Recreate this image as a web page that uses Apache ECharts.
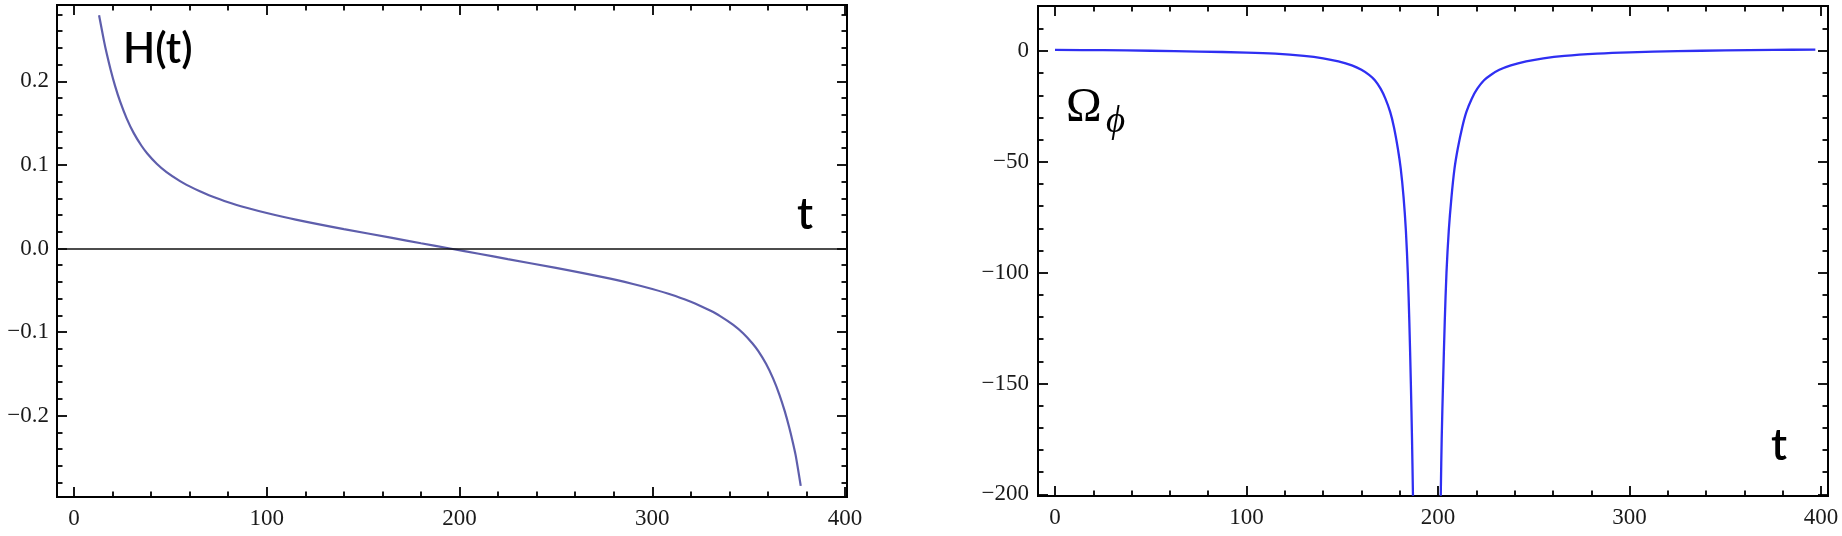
<!DOCTYPE html>
<html><head><meta charset="utf-8">
<script src="https://cdn.jsdelivr.net/npm/echarts@6/dist/echarts.min.js"></script>
<style>html,body{margin:0;padding:0;background:#fff}#c{width:1842px;height:536px}</style>
</head><body><div id="c"></div><script>
// ---- data ----
const hT = [13, 15.6, 17, 19, 21.3, 24, 27.3, 31, 35, 38, 42.9, 48, 55, 60, 65.3, 70, 80, 90, 100, 115, 140, 165, 180, 195, 210, 225, 250, 275, 290, 300, 310, 320, 324.7, 330, 335, 342, 347.1, 352, 355, 359, 362.7, 366, 368.7, 371, 373, 374.4, 377];
const hVal = [0.279, 0.2478, 0.2329, 0.2139, 0.1946, 0.1753, 0.1557, 0.138, 0.1229, 0.1137, 0.1014, 0.0914, 0.0806, 0.0743, 0.0684, 0.0638, 0.0554, 0.0485, 0.0425, 0.0346, 0.0232, 0.0127, 0.0063, 0, -0.0063, -0.0127, -0.0232, -0.0346, -0.0425, -0.0485, -0.0554, -0.0638, -0.0684, -0.0743, -0.0806, -0.0914, -0.1014, -0.1137, -0.1229, -0.138, -0.1557, -0.1753, -0.1946, -0.2139, -0.2329, -0.2478, -0.284];

const omT1 = [0, 25, 50, 75, 100, 115, 130, 140, 148, 155, 160, 164, 167, 170, 172.5, 175, 177, 179, 180.5, 182, 183.2, 184.2, 185, 185.8, 186.4, 186.9];
const omV1 = [0.5, 0.35, 0.1, -0.25, -0.7, -1.2, -2.2, -3.3, -4.7, -6.5, -8.5, -10.8, -13.2, -17, -21.5, -27.5, -34.5, -44, -53, -66, -81, -100, -122, -150, -175, -200.7];
const omT2 = [201.4, 201.9, 202.6, 203.5, 204.4, 205.6, 207, 208.6, 210.3, 212.6, 214.8, 217.6, 220.5, 224, 227.5, 232, 238, 246, 255, 266, 283, 300, 325, 350, 375, 397];
const omV2 = [-200.7, -175, -150, -122, -100, -81, -66, -53, -44, -34.5, -27.5, -21.5, -17, -13.2, -10.8, -8.5, -6.5, -4.7, -3.3, -2.2, -1.2, -0.6, -0.1, 0.3, 0.5, 0.65];

// ---- ticks ----
const xMajor = [0, 100, 200, 300, 400];
const xMinor = [20, 40, 60, 80, 120, 140, 160, 180, 220, 240, 260, 280, 320, 340, 360, 380];
const hMajor = [-0.2, -0.1, 0, 0.1, 0.2];
const hMinor = [-0.28, -0.26, -0.24, -0.22, -0.18, -0.16, -0.14, -0.12, -0.08, -0.06, -0.04, -0.02, 0.02, 0.04, 0.06, 0.08, 0.12, 0.14, 0.16, 0.18, 0.22, 0.24, 0.26, 0.28];
const omMajor = [-200, -150, -100, -50, 0];
const omMinor = [-190, -180, -170, -160, -140, -130, -120, -110, -90, -80, -70, -60, -40, -30, -20, -10, 10];

const LABEL_FONT = '"Liberation Serif", "Times New Roman", serif';
function minusFmt(d) {
  return function (v) {
    const s = Math.abs(v).toFixed(d);
    return (v < -1e-9 ? '\u2212' : '') + s;
  };
}
function frame(gridIndex, min, max, major, minor, side1, side2, fmt, margin) {
  const base = (pos, vals, len, labelled) => ({
    type: 'value', gridIndex: gridIndex, min: min, max: max, position: pos,
    silent: true,
    axisLine: { show: true, onZero: false, lineStyle: { color: '#000', width: 2 } },
    axisTick: { show: true, inside: true, length: len, customValues: vals, lineStyle: { color: '#000', width: 1.8 } },
    axisLabel: labelled ? { show: true, customValues: major, formatter: fmt, fontFamily: LABEL_FONT, fontSize: 23, color: '#1a1a1a', margin: margin }
                        : { show: false },
    splitLine: { show: false }, minorTick: { show: false }
  });
  return [base(side1, major, 10, true), base(side1, minor, 5.5, false), base(side2, major, 10, false), base(side2, minor, 5.5, false)];
}

const xAxes = [].concat(
  frame(0, -8.82, 401.0, xMajor, xMinor, 'bottom', 'top', minusFmt(0), 10),
  frame(1, -8.88, 403.6, xMajor, xMinor, 'bottom', 'top', minusFmt(0), 10)
);
const yAxes = [].concat(
  frame(0, -0.2973, 0.2913, hMajor, hMinor, 'left', 'right', minusFmt(1), 8),
  frame(1, -200.77, 20.3, omMajor, omMinor, 'left', 'right', minusFmt(0), 9)
);

const SANS = 'Lato, "Liberation Sans", Arial, sans-serif';
const SERIF = '"Liberation Serif", "DejaVu Serif", serif';

const chart = echarts.init(document.getElementById('c'), null, { renderer: 'canvas' });
chart.setOption({
  animation: false,
  backgroundColor: '#fff',
  grid: [
    { left: 57, top: 5, width: 790, height: 492, outerBoundsMode: 'none', containLabel: false },
    { left: 1038, top: 6, width: 790, height: 490, outerBoundsMode: 'none', containLabel: false }
  ],
  xAxis: xAxes,
  yAxis: yAxes,
  series: [
    {
      type: 'line', xAxisIndex: 0, yAxisIndex: 0, showSymbol: false, smooth: 0.3,
      data: hT.map((t, i) => [t, hVal[i]]),
      lineStyle: { color: '#5e5eac', width: 2.2 },
      z: 3,
      markLine: {
        silent: true, symbol: ['none', 'none'], label: { show: false },
        lineStyle: { color: '#111', width: 1.6, type: 'solid' },
        data: [{ yAxis: 0 }]
      }
    },
    {
      type: 'line', xAxisIndex: 4, yAxisIndex: 4, showSymbol: false, smooth: 0.3,
      data: omT1.map((t, i) => [t, omV1[i]]),
      lineStyle: { color: '#2f2ff2', width: 2.3 }
    },
    {
      type: 'line', xAxisIndex: 4, yAxisIndex: 4, showSymbol: false, smooth: 0.3,
      data: omT2.map((t, i) => [t, omV2[i]]),
      lineStyle: { color: '#2f2ff2', width: 2.3 }
    }
  ],
  graphic: [
    { type: 'text', left: 123, top: 28, style: { text: 'H(t)', font: '600 42px ' + SANS, fill: '#000' } },
    { type: 'text', left: 797, top: 193, style: { text: 't', font: '600 44px ' + SANS, fill: '#000' } },
    { type: 'text', left: 1066, top: 84, style: { text: '\u03A9', font: '48px ' + SERIF, fill: '#000' } },
    { type: 'text', left: 1106, top: 104, style: { text: '\u03D5', font: 'italic 37px ' + SERIF, fill: '#000' } },
    { type: 'text', left: 1771, top: 424, style: { text: 't', font: '600 44px ' + SANS, fill: '#000' } }
  ]
});
</script></body></html>
